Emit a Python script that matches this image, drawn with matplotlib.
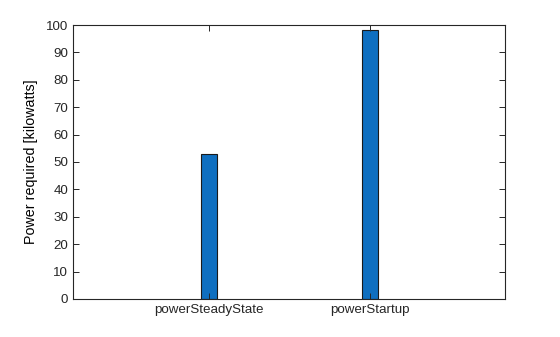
import numpy as np
import matplotlib
matplotlib.use("Agg")
import matplotlib.pyplot as plt

plt.rcParams['font.family'] = ['Liberation Sans', 'DejaVu Sans']

categories = ['powerSteadyState', 'powerStartup']
power_kw = [53, 98]

fig = plt.figure(figsize=(5.6, 3.37), dpi=100)
ax = fig.add_axes([0.1304, 0.1128, 0.7714, 0.813])

x = np.arange(1, len(categories) + 1)
ax.bar(x, power_kw, width=0.097, color='#0f6fc0', edgecolor='#1a1a1a', linewidth=0.8)

ax.set_xlim(0.155, 2.84)
ax.set_ylim(0, 100)
ax.set_yticks(np.arange(0, 101, 10))
ax.set_xticks(x)
ax.set_xticklabels(categories)
ax.set_ylabel('Power required [kilowatts]', fontsize=10.3, labelpad=6)

ax.tick_params(direction='in', top=True, right=True, labelsize=9.6, length=4, width=0.7, colors='#262626')
for s in ax.spines.values():
    s.set_linewidth(0.8)
    s.set_color('#262626')

fig.savefig('out.png', dpi=100)
